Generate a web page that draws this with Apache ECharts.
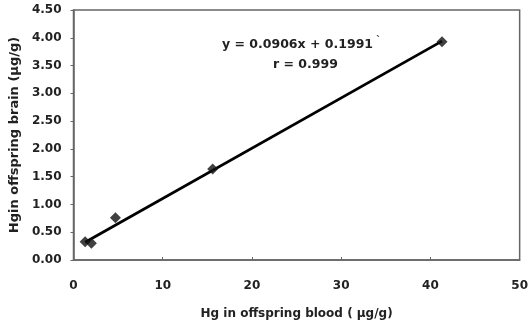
<!DOCTYPE html>
<html>
<head>
<meta charset="utf-8">
<script src="https://cdn.jsdelivr.net/npm/echarts@6/dist/echarts.min.js"></script>
<style>
  html, body { margin: 0; padding: 0; background: #fff; }
  #chart { width: 531px; height: 325px; }
</style>
</head>
<body>
<div id="chart"></div>
<script>
// Hg in offspring blood vs brain (μg/g)
var bloodHg = [1.3, 2.0, 4.7, 15.6, 41.3]
var brainHg = [0.33, 0.30, 0.76, 1.64, 3.93]
// regression line ends
var fitX = [1.3, 41.3]
var fitY = [0.32, 3.94]
var yTicks = ['0.00', '0.50', '1.00', '1.50', '2.00', '2.50', '3.00', '3.50', '4.00', '4.50']

var pts = bloodHg.map(function (x, i) { return [x, brainHg[i]] })
var fit = fitX.map(function (x, i) { return [x, fitY[i]] })

var font = '"DejaVu Sans", "Liberation Sans", sans-serif'
var mychart = echarts.init(document.getElementById('chart'))
mychart.setOption({
  animation: false,
  grid: {
    left: 70,
    right: 7,
    top: 10,
    bottom: 62,
    show: true,
    borderColor: '#666',
    borderWidth: 1.5
  },
  xAxis: {
    type: 'value',
    min: 0,
    max: 50,
    interval: 10,
    name: 'Hg in offspring blood ( μg/g)',
    nameLocation: 'middle',
    nameGap: 48,
    nameTextStyle: { fontFamily: font, fontWeight: 'bold', fontSize: 12, color: '#222' },
    axisLine: { lineStyle: { color: '#666', width: 1.5 } },
    axisTick: { inside: true, length: 3, lineStyle: { color: '#666' } },
    axisLabel: { margin: 20, fontFamily: font, fontWeight: 'bold', fontSize: 12, color: '#222' },
    splitLine: { show: false }
  },
  yAxis: {
    type: 'value',
    min: 0,
    max: 4.5,
    interval: 0.5,
    name: 'Hgin offspring brain (μg/g)',
    nameLocation: 'middle',
    nameGap: 47,
    nameTextStyle: { fontFamily: font, fontWeight: 'bold', fontSize: 13, color: '#222', padding: [0, 0, 0, 0] },
    axisLine: { lineStyle: { color: '#666', width: 1.5 } },
    axisTick: { length: 3, lineStyle: { color: '#666' } },
    axisLabel: {
      margin: 12,
      fontFamily: font,
      fontWeight: 'bold',
      fontSize: 12,
      color: '#222',
      formatter: function (v) { return yTicks[Math.round(v / 0.5)] }
    },
    splitLine: { show: false }
  },
  series: [
    {
      type: 'line',
      data: fit,
      symbol: 'none',
      lineStyle: { color: '#000', width: 2.8 },
      z: 2
    },
    {
      type: 'scatter',
      data: pts,
      symbol: 'diamond',
      symbolSize: 11,
      itemStyle: { color: '#111' },
      z: 3
    }
  ],
  graphic: [
    {
      type: 'text',
      left: 222,
      top: 38,
      style: { text: 'y = 0.0906x + 0.1991', fontFamily: font, fontWeight: 'bold', fontSize: 12.5, fill: '#222' }
    },
    {
      type: 'text',
      left: 376,
      top: 36,
      style: { text: '`', fontFamily: font, fontWeight: 'bold', fontSize: 10, fill: '#444' }
    },
    {
      type: 'text',
      left: 273,
      top: 58,
      style: { text: 'r = 0.999', fontFamily: font, fontWeight: 'bold', fontSize: 12.5, fill: '#222' }
    }
  ]
})
</script>
</body>
</html>
